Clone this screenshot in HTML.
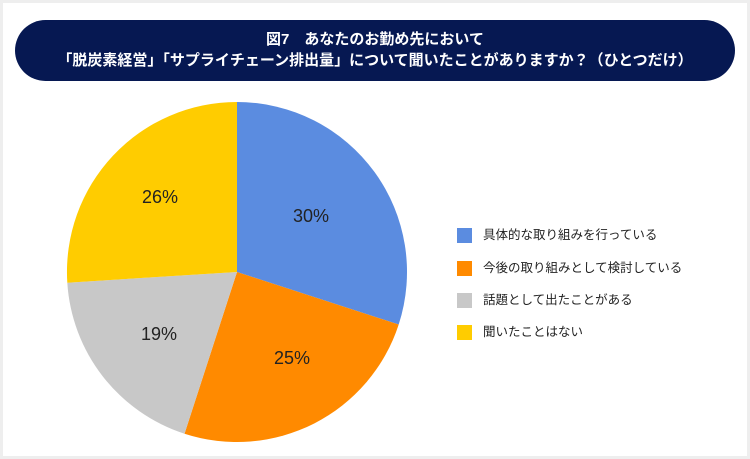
<!DOCTYPE html>
<html><head><meta charset="utf-8"><style>
html,body{margin:0;padding:0}
body{width:750px;height:459px;background:#eeeeee;position:relative;overflow:hidden;font-family:"Liberation Sans","Noto Sans CJK JP",sans-serif}
.panel{position:absolute;left:3px;top:3px;width:744px;height:453px;background:#fff}
.hdr{position:absolute;left:15px;top:20px;width:720px;height:61px;border-radius:31px;background:#061852;color:#fff;text-align:center;font-weight:bold;font-size:15px;line-height:21px;padding-top:9px;box-sizing:border-box;white-space:nowrap}
.lg{position:absolute;left:457px;width:15px;height:15px}
.lt{position:absolute;left:483px;font-size:12.5px;color:#222;line-height:15px;white-space:nowrap}
</style></head><body>
<div class="panel"></div>
<div class="hdr">図7　あなたのお勤め先において<br>「脱炭素経営」「サプライチェーン排出量」について聞いたことがありますか？（ひとつだけ）</div>
<svg style="position:absolute;left:0;top:0" width="750" height="459">
<path d="M237,272 L237,102 A170,170 0 0 1 398.7,324.5 Z" fill="#5b8ce0"/>
<path d="M237,272 L398.7,324.5 A170,170 0 0 1 184.5,433.7 Z" fill="#ff8a00"/>
<path d="M237,272 L184.5,433.7 A170,170 0 0 1 67.3,282.7 Z" fill="#c8c8c8"/>
<path d="M237,272 L67.3,282.7 A170,170 0 0 1 237,102 Z" fill="#ffcc00"/>
<g font-family="Liberation Sans, sans-serif" font-size="18" fill="#222" text-anchor="middle">
<text x="311" y="222">30%</text>
<text x="292" y="364">25%</text>
<text x="159" y="340">19%</text>
<text x="160" y="203">26%</text>
</g>
</svg>
<div class="lg" style="top:228px;background:#5b8ce0"></div><div class="lt" style="top:228px">具体的な取り組みを行っている</div>
<div class="lg" style="top:261px;background:#ff8a00"></div><div class="lt" style="top:261px">今後の取り組みとして検討している</div>
<div class="lg" style="top:293px;background:#c8c8c8"></div><div class="lt" style="top:293px">話題として出たことがある</div>
<div class="lg" style="top:325px;background:#ffcc00"></div><div class="lt" style="top:325px">聞いたことはない</div>
</body></html>
